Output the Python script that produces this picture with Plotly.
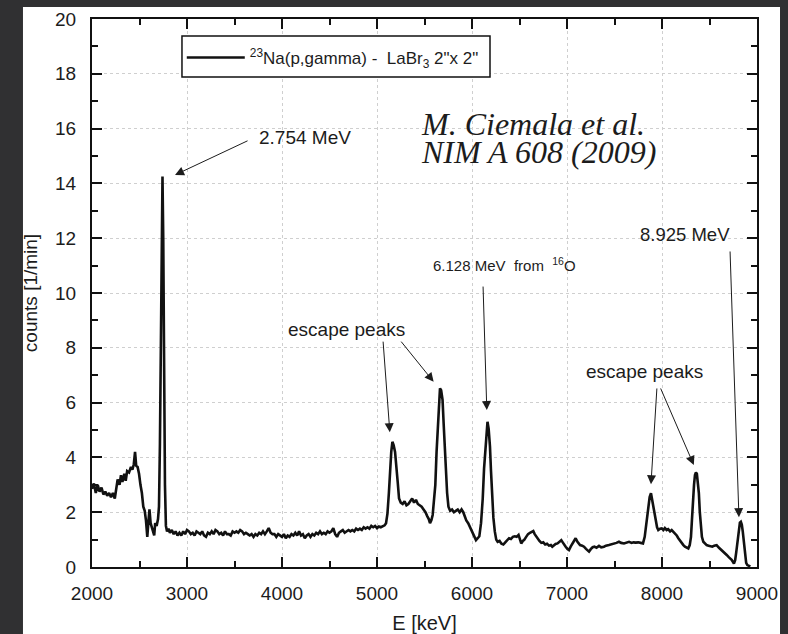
import plotly.graph_objects as go

# gamma-ray energy (keV) and count rate (1/min) of the 23Na(p,gamma) spectrum
energy_kev = [
    2000, 2020, 2040, 2060, 2080, 2100, 2120, 2140, 2160, 2180, 2200, 2220, 2240, 2255, 2270, 2290,
    2305, 2320, 2340, 2355, 2370, 2390, 2410, 2425, 2440, 2453, 2465, 2480, 2495, 2510, 2525, 2540,
    2555, 2568, 2582, 2595, 2605, 2617, 2630, 2645, 2655, 2665, 2680, 2695, 2705, 2715, 2725, 2735,
    2742, 2750, 2758, 2768, 2778, 2790, 2805, 2820, 2840, 2860, 2880, 2900, 2920, 2940, 2960, 2980,
    3000, 3020, 3040, 3060, 3080, 3100, 3120, 3140, 3160, 3180, 3200, 3220, 3240, 3260, 3280, 3300,
    3320, 3340, 3360, 3380, 3400, 3420, 3440, 3460, 3480, 3500, 3520, 3540, 3560, 3580, 3600, 3620,
    3640, 3660, 3680, 3700, 3720, 3740, 3760, 3780, 3800, 3820, 3840, 3860, 3880, 3900, 3920, 3940,
    3960, 3980, 4000, 4020, 4040, 4060, 4080, 4100, 4120, 4140, 4160, 4180, 4200, 4220, 4240, 4260,
    4280, 4300, 4320, 4340, 4360, 4380, 4400, 4420, 4440, 4460, 4480, 4500, 4520, 4540, 4560, 4580,
    4600, 4620, 4640, 4660, 4680, 4700, 4720, 4740, 4760, 4780, 4800, 4820, 4840, 4860, 4880,
    4900, 4920, 4940, 4960, 4980, 5000, 5020, 5040, 5060, 5080, 5095, 5110, 5125, 5137, 5150, 5162,
    5175, 5190, 5205, 5218, 5232, 5250, 5270, 5290, 5310, 5330, 5350, 5370, 5390, 5410, 5430, 5450,
    5470, 5490, 5510, 5530, 5545, 5558, 5572, 5586, 5600, 5614, 5627, 5640, 5652, 5663, 5675, 5690,
    5702, 5713, 5725, 5738, 5752, 5770, 5790, 5810, 5830, 5850, 5870, 5890, 5908, 5925, 5940, 5960,
    5980, 5995, 6010, 6025, 6042, 6060, 6077, 6095, 6113, 6127, 6140, 6152, 6163, 6175, 6189, 6200,
    6212, 6225, 6240, 6255, 6270, 6290, 6310,
    6330, 6350, 6370, 6390, 6410, 6430, 6450, 6470, 6490, 6505, 6518, 6535, 6550, 6570, 6590, 6610,
    6630, 6645, 6660, 6675, 6690, 6710, 6730, 6750, 6770, 6790, 6810, 6830, 6845, 6860, 6880, 6900,
    6920, 6940, 6955, 6970, 6986, 7005, 7021, 7040, 7056, 7075, 7091, 7110, 7137, 7160, 7179, 7200,
    7215, 7232, 7250, 7270, 7290, 7310, 7337, 7360, 7389, 7410, 7442, 7470, 7495, 7520, 7547, 7570,
    7600, 7625, 7653, 7680, 7700, 7723, 7750, 7776,
    7800, 7818, 7832, 7845, 7856, 7870, 7884, 7896, 7908, 7920, 7934, 7948, 7961, 7980, 7997, 8015,
    8030, 8049, 8065, 8085, 8102, 8120, 8137, 8155, 8172, 8190, 8207, 8225, 8242, 8260, 8277, 8292,
    8305, 8315, 8325, 8337, 8347, 8357, 8367, 8377, 8388, 8398, 8408, 8420, 8435, 8452, 8470, 8490,
    8510, 8530, 8550, 8575, 8600, 8628, 8655, 8681, 8705, 8733, 8757, 8770, 8782, 8795, 8808, 8820,
    8830, 8840, 8850, 8862, 8874, 8886, 8898, 8915, 8930,
]
counts_per_min = [
    2.85, 3.05, 2.70, 3.00, 2.75, 2.90, 2.65, 2.75, 2.60, 2.70, 2.55, 2.70, 2.50, 2.80, 3.20, 3.00,
    3.35, 3.10, 3.40, 3.15, 3.50, 3.45, 3.65, 3.55, 3.75, 4.20, 3.70, 3.65, 3.40, 3.00, 2.70, 2.20,
    2.05, 1.70, 1.10, 1.70, 2.10, 1.60, 1.45, 1.20, 1.15, 1.60, 1.50, 1.75, 2.20, 4.50, 9.50, 13.60,
    14.25, 12.00, 7.50, 3.00, 1.50, 1.30, 1.40, 1.25, 1.35, 1.20, 1.30, 1.15, 1.25, 1.15, 1.30, 1.20,
    1.35, 1.30, 1.20, 1.25, 1.15, 1.30, 1.25, 1.20, 1.30, 1.15, 1.10, 1.25, 1.20, 1.30, 1.20, 1.35,
    1.30, 1.20, 1.25, 1.15, 1.30, 1.20, 1.20, 1.15, 1.30, 1.25, 1.30, 1.25, 1.35, 1.30, 1.20, 1.25,
    1.20, 1.15, 1.20, 1.10, 1.20, 1.15, 1.25, 1.20, 1.30, 1.20, 1.30, 1.42, 1.25, 1.20, 1.20, 1.10,
    1.20, 1.15, 1.10, 1.20, 1.05, 1.15, 1.10, 1.20, 1.15, 1.25, 1.15, 1.30, 1.15, 1.20, 1.05, 1.15,
    1.20, 1.10, 1.20, 1.15, 1.25, 1.20, 1.30, 1.20, 1.25, 1.20, 1.30, 1.25, 1.30, 1.42, 1.20, 1.10,
    1.25, 1.30, 1.35, 1.25, 1.30, 1.35, 1.30, 1.35, 1.30, 1.40, 1.35, 1.40, 1.35, 1.45, 1.40,
    1.45, 1.40, 1.50, 1.45, 1.50, 1.42, 1.48, 1.45, 1.50, 1.52, 1.60, 1.95, 2.70, 3.60, 4.20, 4.57,
    4.45, 4.20, 3.70, 3.10, 2.50, 2.35, 2.30, 2.40, 2.25, 2.30, 2.40, 2.50, 2.35, 2.45, 2.30, 2.25,
    2.20, 2.10, 2.00, 1.85, 1.75, 1.60, 1.70, 1.90, 2.40, 3.00, 4.20, 5.20, 6.20, 6.52, 6.45, 6.10,
    5.20, 4.40, 3.50, 2.70, 2.20, 2.05, 2.10, 2.00, 2.05, 2.10, 2.00, 2.10, 2.00, 1.85, 1.70, 1.60,
    1.45, 1.30, 1.20, 1.05, 0.98, 1.05, 1.12, 1.60, 2.50, 3.60, 4.30, 5.00, 5.30, 5.05, 4.40, 3.50,
    2.60, 1.80, 1.30, 1.00, 0.92, 0.95, 0.85,
    0.82, 0.90, 0.98, 1.05, 1.02, 1.10, 1.12, 1.10, 1.17, 1.00, 0.86, 0.95, 0.99, 1.10, 1.20, 1.25,
    1.28, 1.31, 1.20, 1.12, 1.05, 0.95, 0.88, 0.90, 0.82, 0.85, 0.78, 0.80, 0.74, 0.80, 0.84, 0.86,
    0.92, 0.98, 0.90, 0.80, 0.74, 0.66, 0.62, 0.75, 0.86, 0.98, 1.05, 0.92, 0.80, 0.78, 0.74, 0.66,
    0.60, 0.56, 0.65, 0.72, 0.74, 0.70, 0.77, 0.72, 0.74, 0.78, 0.80, 0.82, 0.86, 0.88, 0.92, 0.88,
    0.86, 0.90, 0.92, 0.88, 0.90, 0.89, 0.90, 0.88,
    0.86, 1.10, 1.47, 1.90, 2.20, 2.55, 2.69, 2.45, 2.20, 1.90, 1.60, 1.45, 1.35, 1.40, 1.41, 1.35,
    1.42, 1.35, 1.38, 1.30, 1.35, 1.28, 1.23, 1.15, 1.05, 0.95, 0.86, 0.80, 0.74, 0.70, 0.68, 0.80,
    1.10, 1.70, 2.40, 3.00, 3.36, 3.45, 3.40, 3.10, 2.70, 2.00, 1.45, 1.10, 0.92, 0.85, 0.80, 0.78,
    0.75, 0.74, 0.78, 0.80, 0.70, 0.62, 0.52, 0.44, 0.35, 0.26, 0.13, 0.25, 0.55, 1.00, 1.45, 1.62,
    1.65, 1.55, 1.30, 0.85, 0.40, 0.15, 0.07, 0.03, 0.02,
]

x_ticks = [2000, 3000, 4000, 5000, 6000, 7000, 8000, 9000]
y_ticks = [0, 2, 4, 6, 8, 10, 12, 14, 16, 18, 20]

legend_label = "<sup>23</sup>Na(p,gamma) -  LaBr<sub>3</sub> 2\"x 2\""

# peak labels: (text, x, y, font size)
peak_labels = [
    ("2.754 MeV", 4242, 15.69, 19),
    ("8.925 MeV", 8247, 12.12, 18.5),
    ("6.128 MeV  from  <sup>16</sup>O", 6347, 11.05, 15),
    ("escape peaks", 4684, 8.65, 19),
    ("escape peaks", 7816, 7.12, 19),
]
# arrows: (tail x, tail y, head x, head y)
peak_arrows = [
    (3653, 15.58, 2874, 14.31),
    (8716, 11.57, 8810, 1.82),
    (6116, 10.29, 6156, 5.73),
    (5063, 8.28, 5135, 4.92),
    (5242, 8.28, 5596, 6.76),
    (7947, 6.57, 7884, 3.02),
    (7979, 6.57, 8335, 3.72),
]

FONT = "Liberation Sans, Arial, sans-serif"
INK = "#1c1c1c"

fig = go.Figure()
fig.add_trace(go.Scatter(
    x=energy_kev, y=counts_per_min, mode="lines",
    line=dict(color="#111111", width=2.6),
    name=legend_label,
))

annotations = []
for text, x, y, size in peak_labels:
    annotations.append(dict(
        x=x, y=y, xref="x", yref="y", text=text, showarrow=False,
        font=dict(family=FONT, size=size, color=INK),
    ))
for tx, ty, hx, hy in peak_arrows:
    annotations.append(dict(
        x=hx, y=hy, ax=tx, ay=ty, xref="x", yref="y", axref="x", ayref="y",
        text="", showarrow=True, arrowhead=2, arrowsize=1.8, arrowwidth=1,
        arrowcolor=INK, standoff=0, startstandoff=0,
    ))

# reference note
for text, y in [("M. Ciemala et al.", 16.16), ("NIM A 608 (2009)", 15.14)]:
    annotations.append(dict(
        x=0.491, y=y, xref="paper", yref="y", xanchor="left", yanchor="middle",
        text=f"<i>{text}</i>", showarrow=False,
        font=dict(family="Liberation Serif, Times New Roman, serif", size=32, color=INK),
    ))

axis_common = dict(
    showline=True, linecolor="#111111", linewidth=2, mirror="allticks",
    ticks="inside", ticklen=10, tickwidth=1.5, tickcolor="#111111",
    showgrid=True, gridcolor="#cfcfcf", griddash="dot", gridwidth=1,
    zeroline=False, automargin=False,
    tickfont=dict(family=FONT, size=19, color=INK),
)

fig.update_layout(
    width=788, height=634,
    margin=dict(l=92, r=31, t=19, b=67, pad=0),
    paper_bgcolor="#303032",
    plot_bgcolor="white",
    font=dict(family=FONT, color=INK),
    showlegend=True,
    legend=dict(
        x=0.135, y=0.9288, xanchor="left", yanchor="middle",
        bgcolor="rgba(0,0,0,0)", borderwidth=0,
        font=dict(family=FONT, size=17, color=INK),
        itemwidth=58,
    ),
    xaxis=dict(
        range=[2000, 9000], tickvals=x_ticks,
        minor=dict(ticks="inside", ticklen=6, tickwidth=1.5, dtick=500, tick0=2000, showgrid=False),
        title=dict(text="E [keV]", font=dict(family=FONT, size=20, color=INK), standoff=14),
        ticklabelstandoff=8,
        **axis_common,
    ),
    yaxis=dict(
        range=[0, 20], tickvals=y_ticks,
        minor=dict(ticks="inside", ticklen=6, tickwidth=1.5, dtick=1, tick0=0, showgrid=False),
        title=dict(text="counts [1/min]", font=dict(family=FONT, size=19, color=INK), standoff=12),
        ticklabelstandoff=10,
        **axis_common,
    ),
    annotations=annotations,
    shapes=[
        # white page behind the axes
        dict(
            type="rect", xref="paper", yref="paper", layer="below",
            x0=-0.1038, x1=1.0346, y0=-0.1223, y1=1.0219,
            fillcolor="white", line=dict(width=0),
        ),
        # legend frame
        dict(
            type="rect", xref="paper", yref="paper", layer="above",
            x0=0.1353, x1=0.5985, y0=0.8942, y1=0.969,
            fillcolor="white", line=dict(color="#111111", width=1.5),
        ),
    ],
)

fig.write_html("out.html")
